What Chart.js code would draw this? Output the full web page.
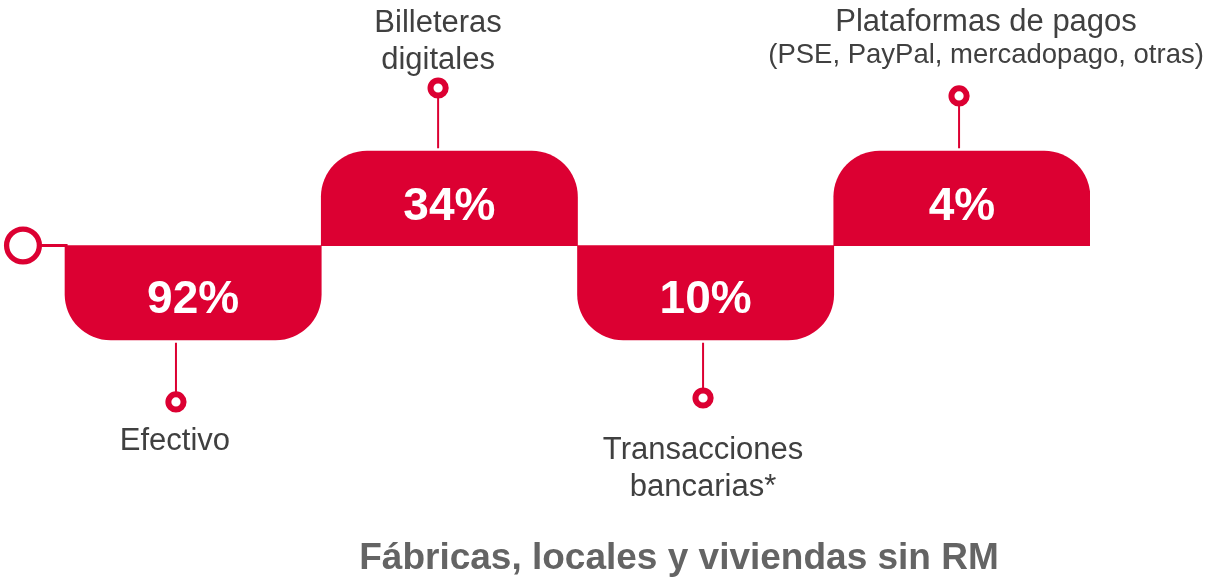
<!DOCTYPE html>
<html>
<head>
<meta charset="utf-8">
<script src="https://cdn.jsdelivr.net/npm/chart.js@4.4.1/dist/chart.umd.min.js"></script>
<style>
    html, body { margin: 0; padding: 0; background: #ffffff; }
    #wrap { width: 1214px; height: 578px; }
</style>
</head>
<body>
<div id="wrap"><canvas id="myChart" width="1214" height="578"></canvas></div>
<script>
// datos
const categories = ['Efectivo', 'Billeteras digitales', 'Transacciones bancarias*', 'Plataformas de pagos'];
const categoryLines = [
    ['Efectivo'],
    ['Billeteras', 'digitales'],
    ['Transacciones', 'bancarias*'],
    ['Plataformas de pagos', '(PSE, PayPal, mercadopago, otras)']
];
const shares = [92, 34, 10, 4];
const side = [-1, 1, -1, 1];               // abajo / arriba de la linea
const markerX = [0.433, 1.456, 2.49, 3.489];
const markerLevel = [-1.656, 1.668, -1.614, 1.584];
const startX = -0.164;
const chartTitle = 'Fábricas, locales y viviendas sin RM';

const RED = '#DC0032';
const FONT = '"Liberation Sans", Arial, sans-serif';

// texto encima de las barras
const labelPlugin = {
    id: 'labelPlugin',
    afterDatasetsDraw(chart) {
        const ctx = chart.ctx;
        const xs = chart.scales.x;
        const ys = chart.scales.y;
        ctx.save();
        ctx.textAlign = 'center';
        ctx.textBaseline = 'alphabetic';

        // porcentajes
        ctx.fillStyle = '#ffffff';
        ctx.font = 'bold 46px ' + FONT;
        shares.forEach((v, i) => {
            const x = xs.getPixelForValue(i + 0.5);
            const y = ys.getPixelForValue(side[i] * 0.5) + (side[i] > 0 ? 22 : 20);
            ctx.fillText(v + '%', x, y);
        });

        // nombres
        ctx.fillStyle = '#404040';
        const baselines = [[450], [32, 69], [459, 496], [31, 63]];
        const sizes = [[31], [31, 31], [31, 31], [31, 27.5]];
        const shift = [-1, 0, 0, 27];
        categoryLines.forEach((lines, i) => {
            const x = xs.getPixelForValue(markerX[i]) + shift[i];
            lines.forEach((t, j) => {
                ctx.font = sizes[i][j] + 'px ' + FONT;
                ctx.fillText(t, x, baselines[i][j]);
            });
        });

        // titulo
        ctx.fillStyle = '#646464';
        ctx.font = 'bold 37px ' + FONT;
        ctx.fillText(chartTitle, 679, 569);
        ctx.restore();
    }
};

const barData = shares.map((v, i) => ({ x: i + 0.5, y: side[i] }));

const connectors = markerX.map((x, i) => ({
    type: 'line',
    label: categories[i],
    data: [{ x: x, y: side[i] * 1.03 }, { x: x, y: markerLevel[i] }],
    borderColor: RED,
    borderWidth: 2,
    pointRadius: 0,
    order: 2
}));

new Chart(document.getElementById('myChart').getContext('2d'), {
    type: 'bar',
    data: {
        datasets: [{
            type: 'bar',
            label: 'Participacion',
            data: barData,
            backgroundColor: RED,
            borderRadius: 46,
            borderSkipped: 'start',
            barPercentage: 1,
            categoryPercentage: 1,
            order: 3
        },
        ...connectors,
        {
            type: 'line',
            label: 'linea',
            data: [{ x: startX, y: 0 }, { x: 0.01, y: 0 }],
            borderColor: RED,
            borderWidth: 3,
            pointRadius: [16.4, 0],
            pointBorderWidth: 5.3,
            pointBackgroundColor: '#ffffff',
            pointBorderColor: RED,
            clip: false,
            order: 1
        }, {
            type: 'scatter',
            label: 'marcadores',
            data: markerX.map((x, i) => ({ x: x, y: markerLevel[i] })),
            pointRadius: 7.6,
            pointBorderWidth: 6,
            pointBackgroundColor: '#ffffff',
            pointBorderColor: RED,
            order: 0
        }]
    },
    options: {
        responsive: false,
        animation: false,
        layout: {
            autoPadding: false,
            padding: { left: 0, right: 124, top: 0, bottom: 0 }
        },
        plugins: {
            legend: { display: false },
            tooltip: { enabled: false }
        },
        scales: {
            x: {
                type: 'linear', min: -0.2537, max: 4, offset: false, display: false,
                ticks: { stepSize: 1, includeBounds: false }
            },
            y: { min: -3.52, max: 2.6, display: false }
        }
    },
    plugins: [labelPlugin]
});
</script>
</body>
</html>
